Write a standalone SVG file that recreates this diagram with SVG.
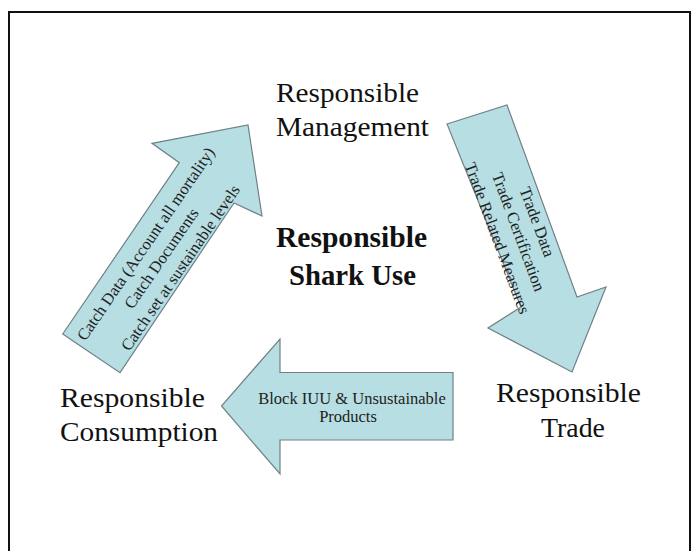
<svg xmlns="http://www.w3.org/2000/svg" width="699" height="551" viewBox="0 0 699 551">
<style>
.arrow{fill:#b7dee3;stroke:#6f8185;stroke-width:1.2;stroke-linejoin:miter}
.big{font-family:"Liberation Serif","Times New Roman",serif;font-size:27px;fill:#111}
.bold{font-family:"Liberation Serif","Times New Roman",serif;font-size:29px;font-weight:bold;fill:#111}
.small{font-family:"Liberation Serif","Times New Roman",serif;font-size:16.5px;fill:#222;text-anchor:middle}
</style>
<rect x="0" y="0" width="699" height="551" fill="#ffffff"/>
<path d="M9,551 V12 H690 V551" fill="none" stroke="#111" stroke-width="2"/>
<g id="connectors">
  <g id="arrow-catch">
    <path class="arrow" d="M62.7,334 L120,372.7 L234,203 L262,216 L248,125 L152,143.3 L179.3,162.7 Z"/>
    <g transform="translate(161,258) rotate(-55.5)">
      <text class="small" x="3" y="-15">Catch Data (Account all mortality)</text>
      <text class="small" x="0" y="6">Catch Documents</text>
      <text class="small" x="3" y="27">Catch set at sustainable levels</text>
    </g>
  </g>
  <g id="arrow-trade">
    <path class="arrow" d="M447,124 L507,105 L577,297 L606,287 L572,372 L488,328 L521,307 Z"/>
    <g transform="translate(519,231.7) rotate(69.75)">
      <text class="small" x="-3" y="-15">Trade Data</text>
      <text class="small" x="0" y="6">Trade Certification</text>
      <text class="small" x="-1.5" y="28">Trade Related Measures</text>
    </g>
  </g>
  <g id="arrow-block">
    <path class="arrow" d="M453,372.5 L453,440 L280,440 L280,474 L221.5,406 L280,339 L280,372.5 Z"/>
    <text class="small" x="352" y="404">Block IUU &amp; Unsustainable</text>
    <text class="small" x="348" y="422">Products</text>
  </g>
</g>
<g id="node-management">
  <text class="big" x="276" y="102" textLength="143" lengthAdjust="spacingAndGlyphs">Responsible</text>
  <text class="big" x="276" y="136" textLength="153" lengthAdjust="spacingAndGlyphs">Management</text>
</g>
<g id="node-center">
  <text class="bold" x="276" y="247" textLength="151" lengthAdjust="spacingAndGlyphs">Responsible</text>
  <text class="bold" x="289" y="285" textLength="127" lengthAdjust="spacingAndGlyphs">Shark Use</text>
</g>
<g id="node-trade">
  <text class="big" x="496" y="402" textLength="145" lengthAdjust="spacingAndGlyphs">Responsible</text>
  <text class="big" x="541" y="437" textLength="64" lengthAdjust="spacingAndGlyphs">Trade</text>
</g>
<g id="node-consumption">
  <text class="big" x="60" y="407" textLength="145" lengthAdjust="spacingAndGlyphs">Responsible</text>
  <text class="big" x="60" y="441" textLength="158" lengthAdjust="spacingAndGlyphs">Consumption</text>
</g>
</svg>
